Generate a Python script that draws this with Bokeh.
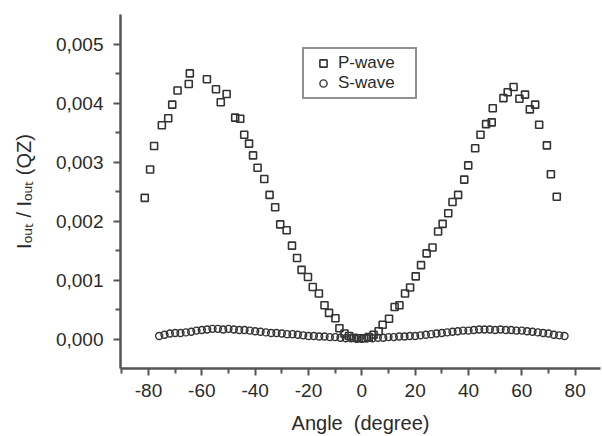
from bokeh.plotting import figure
from bokeh.models import Range1d, FixedTicker, Legend, LegendItem
from bokeh.embed import file_html
from bokeh.resources import INLINE

# P-wave (squares): angle in degrees, ratio
p_angle = [-81.4, -79.4, -77.9, -75.0, -72.6, -71.1, -69.1, -64.9, -64.5, -58.1,
           -54.7, -52.9, -50.7, -47.5, -45.6, -44.1, -42.3, -40.8, -39.1, -36.6,
           -34.6, -32.5, -30.6, -28.2, -26.2, -24.3, -22.6, -20.2, -18.4, -16.1,
           -14.0, -12.3, -9.9, -8.4, -6.5, -4.8, -3.0, -1.2, 0.8, 2.6,
           4.4, 6.3, 7.8, 10.2, 12.3, 14.1, 16.2, 18.1, 20.2, 22.2,
           24.3, 26.5, 28.6, 30.3, 32.4, 34.0, 36.1, 38.4, 39.9, 42.5,
           44.5, 46.6, 48.7, 49.1, 53.1, 54.7, 56.9, 59.1, 61.2, 63.0,
           65.0, 66.5, 69.4, 70.9, 73.1]
p_value = [0.00240, 0.00288, 0.00328, 0.00363, 0.00375, 0.00398, 0.00422, 0.00433, 0.00451, 0.00441,
           0.00424, 0.00402, 0.00416, 0.00376, 0.00374, 0.00347, 0.00332, 0.00312, 0.00291, 0.00272,
           0.00245, 0.00224, 0.00195, 0.00185, 0.00159, 0.00138, 0.00118, 0.00106, 0.00089, 0.00078,
           0.00058, 0.00045, 0.00036, 0.00019, 0.00010, 0.00006, 0.00003, 0.00002, 0.00002, 0.00004,
           0.00008, 0.00014, 0.00025, 0.00035, 0.00055, 0.00058, 0.00078, 0.00088, 0.00107, 0.00126,
           0.00146, 0.00156, 0.00183, 0.00196, 0.00214, 0.00233, 0.00245, 0.00271, 0.00295, 0.00324,
           0.00347, 0.00365, 0.00368, 0.00392, 0.00409, 0.00419, 0.00428, 0.00408, 0.00415, 0.00390,
           0.00398, 0.00364, 0.00329, 0.00280, 0.00242]

# S-wave (circles)
s_angle = [-76, -74, -72, -70, -68, -66, -64, -62, -60, -58, -56, -54, -52, -50, -48, -46,
           -44, -42, -40, -38, -36, -34, -32, -30, -28, -26, -24, -22, -20, -18, -16, -14,
           -12, -10, -8, -6, -4, -2, 0, 2, 4, 6, 8, 10, 12, 14, 16, 18, 20, 22, 24, 26, 28,
           30, 32, 34, 36, 38, 40, 42, 44, 46, 48, 50, 52, 54, 56, 58, 60, 62, 64, 66, 68,
           70, 72, 74, 76]
s_value = [0.00006, 0.00008, 0.00010, 0.00011, 0.00011, 0.00012, 0.00013, 0.00015, 0.00016, 0.00017,
           0.00018, 0.00018, 0.00017, 0.00018, 0.00017, 0.00016, 0.00016, 0.00015, 0.00014, 0.00013,
           0.00012, 0.00011, 0.00011, 0.00010, 0.00009, 0.00009, 0.00008, 0.00007, 0.00006, 0.00006,
           0.00005, 0.00005, 0.00004, 0.00004, 0.00003, 0.00002, 0.00002, 0.00001, 0.00001, 0.00002,
           0.00002, 0.00003, 0.00003, 0.00004, 0.00004, 0.00005, 0.00005, 0.00006, 0.00006, 0.00007,
           0.00008, 0.00009, 0.00010, 0.00011, 0.00012, 0.00013, 0.00014, 0.00015, 0.00015, 0.00016,
           0.00017, 0.00017, 0.00017, 0.00016, 0.00017, 0.00016, 0.00016, 0.00015, 0.00015, 0.00014,
           0.00013, 0.00012, 0.00011, 0.00010, 0.00008, 0.00007, 0.00006]

x_ticks = [-80, -60, -40, -20, 0, 20, 40, 60, 80]
x_tick_labels = ["-80", "-60", "-40", "-20", "0", "20", "40", "60", "80"]
y_ticks = [0.0, 0.001, 0.002, 0.003, 0.004, 0.005]
y_tick_labels = ["0,000", "0,001", "0,002", "0,003", "0,004", "0,005"]
x_title = "Angle\u00a0 (degree)"
y_title = "I\u2092\u1d64\u209c / I\u2092\u1d64\u209c (QZ)"

FONT = "Liberation Sans"
INK = "#2a2a2a"

p = figure(width=602, height=436, output_backend="svg", toolbar_location=None,
           x_range=Range1d(-90.5, 89.5), y_range=Range1d(-0.000492, 0.005508),
           min_border_left=120, min_border_right=2, min_border_top=14, min_border_bottom=68)
p.outline_line_color = None
p.xgrid.visible = False
p.ygrid.visible = False
p.background_fill_color = "white"

for ax in (p.xaxis[0], p.yaxis[0]):
    ax.axis_line_color = "#555555"
    ax.axis_line_width = 2.5
    ax.major_tick_line_color = "#555555"
    ax.major_tick_line_width = 2
    ax.minor_tick_line_color = "#555555"
    ax.minor_tick_line_width = 2
    ax.major_tick_out = 7
    ax.major_tick_in = 0
    ax.minor_tick_out = 5
    ax.minor_tick_in = 0
    ax.major_label_text_font = FONT
    ax.major_label_text_font_size = "19px"
    ax.major_label_text_color = INK
    ax.axis_label_text_font = FONT
    ax.axis_label_text_font_size = "20px"
    ax.axis_label_text_font_style = "normal"
    ax.axis_label_text_color = INK

p.xaxis.ticker = FixedTicker(ticks=x_ticks, minor_ticks=[-90, -70, -50, -30, -10, 10, 30, 50, 70, 90])
p.yaxis.ticker = FixedTicker(ticks=y_ticks, minor_ticks=[0.0005, 0.0015, 0.0025, 0.0035, 0.0045])
p.xaxis.major_label_overrides = {t: l for t, l in zip(x_ticks, x_tick_labels)}
p.yaxis.major_label_overrides = {t: l for t, l in zip(y_ticks, y_tick_labels)}
p.xaxis.major_label_standoff = 8
p.yaxis.major_label_standoff = 10
p.xaxis.axis_label = x_title
p.yaxis.axis_label = y_title
p.xaxis.axis_label_standoff = 12
p.yaxis.axis_label_standoff = 18

rs = p.scatter(s_angle, s_value, marker="circle", size=7, fill_color=None,
               line_color="#333333", line_width=1.4)
rp = p.scatter(p_angle, p_value, marker="square", size=7, fill_color=None,
               line_color="#333333", line_width=1.6)

legend = Legend(items=[LegendItem(label="P-wave", renderers=[rp]),
                       LegendItem(label="S-wave", renderers=[rs])],
                location=(182, 269), padding=4, spacing=0, margin=0,
                glyph_width=30, glyph_height=18, label_height=18, label_width=73,
                label_standoff=0,
                label_text_font=FONT, label_text_font_size="17px", label_text_color=INK,
                border_line_color="#222222", border_line_width=2,
                background_fill_color="white", background_fill_alpha=1)
p.add_layout(legend, "center")

open("out.html", "w").write(file_html(p, INLINE))
